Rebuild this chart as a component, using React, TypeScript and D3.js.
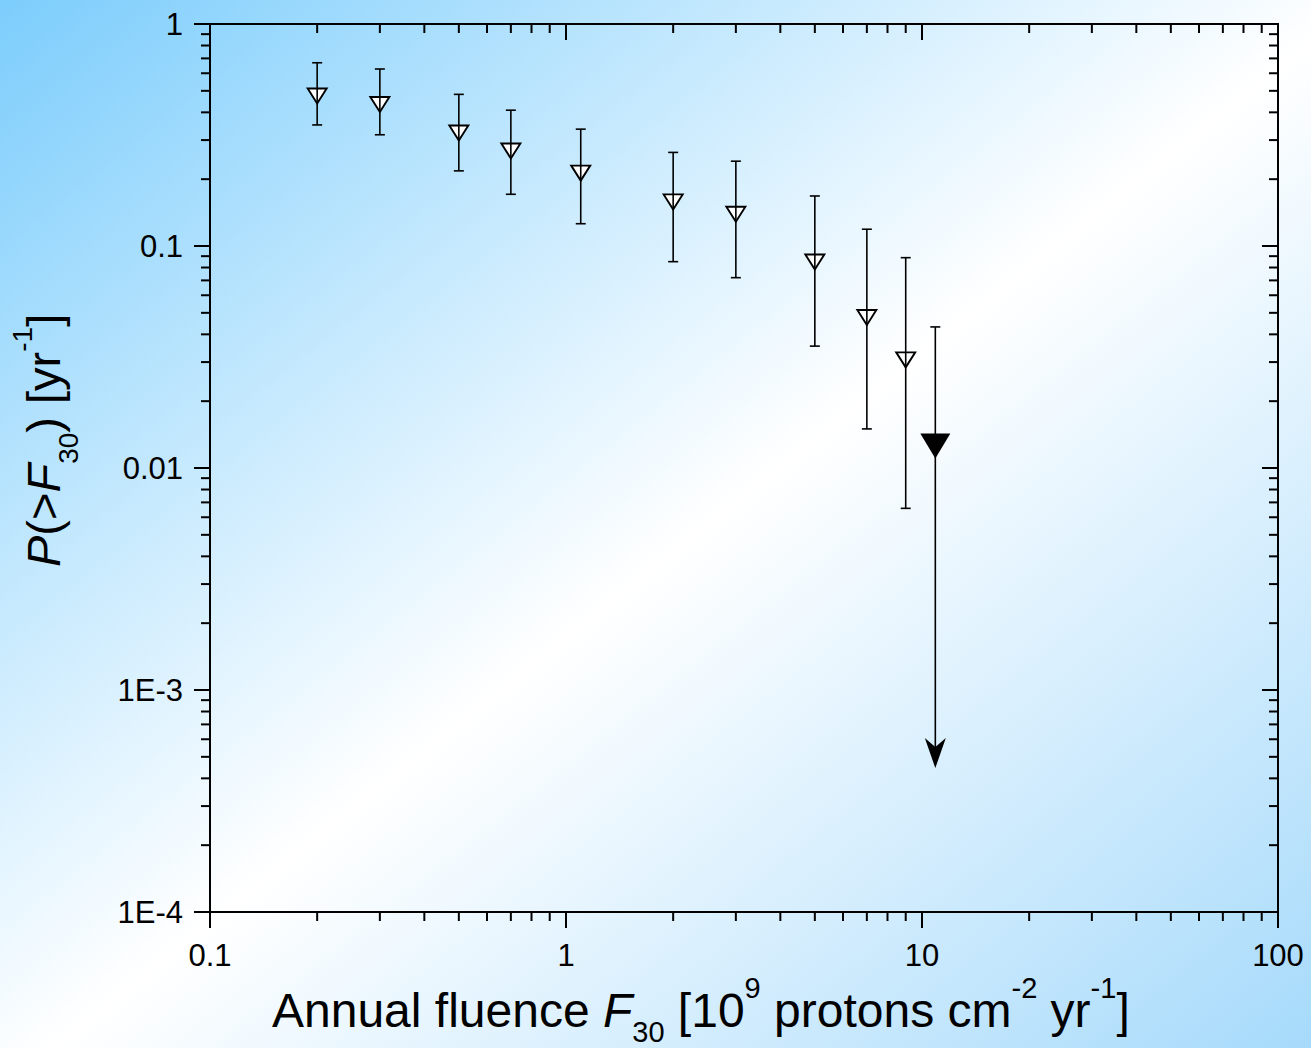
import React from "react";
import * as d3 from "d3";

// ---- data ----
const fluence = [0.2, 0.3, 0.5, 0.7, 1.1, 2, 3, 5, 7, 9];
const prob = [0.474, 0.434, 0.323, 0.268, 0.213, 0.158, 0.139, 0.0847, 0.0476, 0.0307];
const errHigh = [0.669, 0.627, 0.482, 0.409, 0.336, 0.264, 0.241, 0.168, 0.119, 0.0886];
const errLow = [0.351, 0.317, 0.218, 0.171, 0.126, 0.085, 0.072, 0.0354, 0.015, 0.00658];
const limitX = [10.9];
const limitY = [0.01257];
const limitHigh = [0.0432];
const limitArrowTo = [4.45e-4];

const xTicks = [0.1, 1, 10, 100];
const xTickLabels = ["0.1", "1", "10", "100"];
const yTicks = [1e-4, 1e-3, 0.01, 0.1, 1];
const yTickLabels = ["1E-4", "1E-3", "0.01", "0.1", "1"];

const W = 1311;
const H = 1048;
const FONT = "'Liberation Sans', Arial, Helvetica, sans-serif";

export default function App() {
  const x = d3.scaleLog().domain([0.1, 100]).range([210, 1278]);
  const y = d3.scaleLog().domain([1e-4, 1]).range([912, 24]);
  const [x0, x1] = x.range();
  const [y0, y1] = y.range();

  const minorX: number[] = [];
  for (let d = 0.1; d < 100; d *= 10)
    for (let k = 2; k <= 9; k++) minorX.push(+(d * k).toPrecision(3));
  const minorY: number[] = [];
  for (let d = 1e-4; d < 1; d *= 10)
    for (let k = 2; k <= 9; k++) minorY.push(+(d * k).toPrecision(3));

  const tri = (w: number, h: number) =>
    d3.line()([
      [-w / 2, -h / 2],
      [w / 2, -h / 2],
      [0, h / 2],
    ]) + "Z";

  const axisStroke = 2;
  const cap = 5;

  return (
    <svg width={W} height={H} style={{ position: "absolute", left: 0, top: 0 }} fontFamily={FONT}>
      <defs>
        <linearGradient id="bg" x1="0" y1="0" x2="1" y2="1">
          <stop offset="0" stopColor="#7ccdfc" />
          <stop offset="0.52" stopColor="#ffffff" />
          <stop offset="1" stopColor="#a6dafb" />
        </linearGradient>
      </defs>
      <rect x={0} y={0} width={W} height={H} fill="url(#bg)" />

      {/* error bars & markers */}
      {fluence.map((f, i) => {
        const cx = x(f);
        return (
          <g key={i}>
            <path d={tri(19, 15)} transform={`translate(${cx},${y(prob[i])})`} fill="#fff" stroke="#000" strokeWidth={1.9} strokeLinejoin="miter" />
            <line x1={cx} x2={cx} y1={y(errHigh[i])} y2={y(errLow[i])} stroke="#000" strokeWidth={1.6} />
            <line x1={cx - cap} x2={cx + cap} y1={y(errHigh[i])} y2={y(errHigh[i])} stroke="#000" strokeWidth={1.6} />
            <line x1={cx - cap} x2={cx + cap} y1={y(errLow[i])} y2={y(errLow[i])} stroke="#000" strokeWidth={1.6} />
          </g>
        );
      })}

      {limitX.map((f, i) => {
        const cx = x(f);
        const tip = y(limitArrowTo[i]);
        return (
          <g key={"lim" + i}>
            <line x1={cx} x2={cx} y1={y(limitHigh[i])} y2={tip - 10} stroke="#000" strokeWidth={1.6} />
            <line x1={cx - cap} x2={cx + cap} y1={y(limitHigh[i])} y2={y(limitHigh[i])} stroke="#000" strokeWidth={1.6} />
            <path d={tri(30, 25)} transform={`translate(${cx},${y(limitY[i])})`} fill="#000" />
            <path
              d={`M0,0 L-10.5,-30 L0,-21 L10.5,-30 Z`}
              transform={`translate(${cx},${tip})`}
              fill="#000"
            />
          </g>
        );
      })}

      {/* axes frame */}
      <rect x={x0} y={y1} width={x1 - x0} height={y0 - y1} fill="none" stroke="#000" strokeWidth={axisStroke} />

      {/* bottom (outward) & top (inward) ticks */}
      {xTicks.map((t) => (
        <g key={"xt" + t}>
          <line x1={x(t)} x2={x(t)} y1={y0} y2={y0 + 16} stroke="#000" strokeWidth={axisStroke} />
          <line x1={x(t)} x2={x(t)} y1={y1} y2={y1 + 16} stroke="#000" strokeWidth={axisStroke} />
        </g>
      ))}
      {minorX.map((t) => (
        <g key={"xm" + t}>
          <line x1={x(t)} x2={x(t)} y1={y0} y2={y0 + 9} stroke="#000" strokeWidth={axisStroke} />
          <line x1={x(t)} x2={x(t)} y1={y1} y2={y1 + 9} stroke="#000" strokeWidth={axisStroke} />
        </g>
      ))}
      {/* left (outward) & right (inward) ticks */}
      {yTicks.map((t) => (
        <g key={"yt" + t}>
          <line x1={x0 - 16} x2={x0} y1={y(t)} y2={y(t)} stroke="#000" strokeWidth={axisStroke} />
          <line x1={x1 - 16} x2={x1} y1={y(t)} y2={y(t)} stroke="#000" strokeWidth={axisStroke} />
        </g>
      ))}
      {minorY.map((t) => (
        <g key={"ym" + t}>
          <line x1={x0 - 9} x2={x0} y1={y(t)} y2={y(t)} stroke="#000" strokeWidth={axisStroke} />
          <line x1={x1 - 9} x2={x1} y1={y(t)} y2={y(t)} stroke="#000" strokeWidth={axisStroke} />
        </g>
      ))}

      {/* tick labels */}
      {xTicks.map((t, i) => (
        <text key={"xl" + t} x={x(t)} y={966} fontSize={31} textAnchor="middle" fill="#000">
          {xTickLabels[i]}
        </text>
      ))}
      {yTicks.map((t, i) => (
        <text key={"yl" + t} x={183} y={y(t) + 11} fontSize={31} textAnchor="end" fill="#000">
          {yTickLabels[i]}
        </text>
      ))}

      {/* x title */}
      <text x={272} y={1027} fontSize={48} fill="#000">
        <tspan>Annual fluence </tspan>
        <tspan fontStyle="italic">F</tspan>
        <tspan fontSize={29} dy={15}>30</tspan>
        <tspan dy={-15}> [10</tspan>
        <tspan fontSize={29} dy={-29}>9</tspan>
        <tspan dy={29}> protons cm</tspan>
        <tspan fontSize={29} dy={-29}>-2</tspan>
        <tspan dy={29}> yr</tspan>
        <tspan fontSize={29} dy={-29}>-1</tspan>
        <tspan dy={29}>]</tspan>
      </text>

      {/* y title */}
      <text transform="translate(60,567) rotate(-90)" fontSize={47} fill="#000">
        <tspan fontStyle="italic">P</tspan>
        <tspan>(&gt;</tspan>
        <tspan fontStyle="italic">F</tspan>
        <tspan fontSize={28} dy={18}>30</tspan>
        <tspan dy={-18}>) [yr</tspan>
        <tspan fontSize={28} dy={-28}>-1</tspan>
        <tspan dy={28}>]</tspan>
      </text>
    </svg>
  );
}
